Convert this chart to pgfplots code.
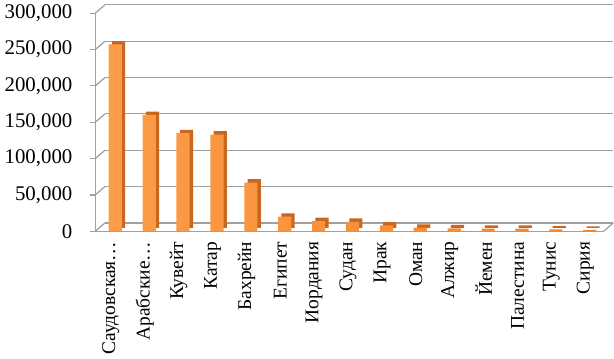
\documentclass[border=0pt]{standalone}
\usepackage{fontspec}
\setmainfont{Liberation Serif}
\usepackage{pgfplots}
\pgfplotsset{compat=1.18}
\definecolor{barfront}{HTML}{F6852B}
\definecolor{barlight}{HTML}{FC9C48}
\definecolor{barside}{HTML}{C9671F}
\definecolor{gridc}{HTML}{A0A0A0}
\begin{document}
\begin{tikzpicture}
\begin{axis}[
  scale only axis, width=366pt, height=157pt,
  xmin=-0.5, xmax=14.5, ymin=0, ymax=300000,
  clip=false,
  axis lines*=left,
  axis line style={gridc, line width=0.9pt},
  ytick={0,50000,100000,150000,200000,250000,300000},
  scaled y ticks=false,
  /pgf/number format/assume math mode=true,
  yticklabel={\pgfmathprintnumber[fixed,1000 sep={,}]{\tick}},
  tick label style={font=\fontsize{15}{17}\selectfont, black},
  ytick style={draw=gridc, line width=0.9pt},
  major tick length=4pt,
  tick align=outside,
  yticklabel style={xshift=-9pt},
  xtick={0,1,2,3,4,5,6,7,8,9,10,11,12,13,14},
  xticklabels={Саудовская…,Арабские…,Кувейт,Катар,Бахрейн,Египет,Иордания,Судан,Ирак,Оман,Алжир,Йемен,Палестина,Тунис,Сирия},
  xtick style={draw=none},
  xticklabel style={rotate=90, anchor=east, font=\fontsize{14}{16}\selectfont, yshift=1pt},
  extra x ticks={-0.5,0.5,1.5,2.5,3.5,4.5,5.5,6.5,7.5,8.5,9.5,10.5,11.5,12.5,13.5,14.5},
  extra x tick labels={},
  extra x tick style={tick style={draw=gridc, line width=0.9pt}, major tick length=4pt},
]
% back wall and floor
\pgfplotsinvokeforeach{0,50000,100000,150000,200000,250000,300000}{
  \draw[gridc, line width=0.9pt] ([xshift=7pt,yshift=6pt]axis cs:-0.5,#1) -- ([xshift=7pt,yshift=6pt]axis cs:14.5,#1);
  \draw[gridc, line width=0.9pt] (axis cs:-0.5,#1) -- ([xshift=7pt,yshift=6pt]axis cs:-0.5,#1);
}
\draw[gridc, line width=0.9pt] (axis cs:14.5,0) -- ([xshift=7pt,yshift=6pt]axis cs:14.5,0);
% bars: side/depth
\addplot[ybar, bar width=9.5pt, bar shift=4.6pt, yshift=2.4pt, fill=barside, draw=none] coordinates {
(0,257000) (1,160000) (2,135000) (3,133000) (4,67000) (5,20000) (6,14000) (7,13000) (8,8000) (9,5000) (10,4000) (11,3500) (12,3500) (13,2500) (14,2000)};
% bars: front
\addplot[ybar, bar width=9.5pt, bar shift=2.2pt, left color=barlight, right color=barfront, draw=none] coordinates {
(0,257000) (1,160000) (2,135000) (3,133000) (4,67000) (5,20000) (6,14000) (7,13000) (8,8000) (9,5000) (10,4000) (11,3500) (12,3500) (13,2500) (14,2000)};
\end{axis}
\end{tikzpicture}
\end{document}
